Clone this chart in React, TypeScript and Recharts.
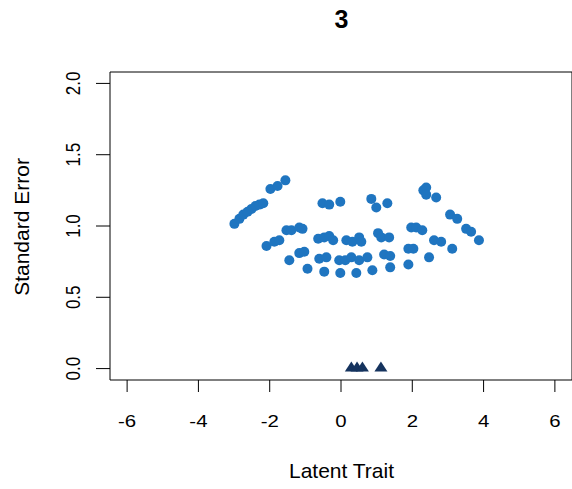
import { ScatterChart, Scatter, XAxis, YAxis, ReferenceArea } from "recharts";

// person locations on the latent trait and their standard errors
const latentTrait = [
  -2.99, -2.85, -2.74, -2.62, -2.51, -2.4, -2.29, -2.18, -1.98, -1.78, -1.56,
  -2.09, -1.87, -1.73, -1.53, -1.39, -1.17, -1.08,
  -1.45, -1.17, -1.03, -0.94,
  -0.52, -0.33, -0.02,
  -0.64, -0.47, -0.33, -0.22, 0.15, 0.32, 0.51, 0.57, 1.04, 1.13, 1.35,
  -0.61, -0.41, -0.05, 0.12, 0.29, 0.51, 0.74, 1.21, 1.38, 1.89, 2.03,
  -0.47, -0.02, 0.43, 0.88, 1.38, 1.89,
  0.85, 0.99, 1.3,
  2.31, 2.39, 2.39, 2.67, 3.06, 3.26, 3.51, 3.65, 3.87,
  1.97, 2.11, 2.28, 2.61, 2.81, 3.12, 2.47,
];
const standardError = [
  1.015, 1.05, 1.08, 1.1, 1.12, 1.14, 1.15, 1.16, 1.26, 1.28, 1.32,
  0.86, 0.89, 0.9, 0.97, 0.97, 0.99, 0.98,
  0.76, 0.81, 0.82, 0.7,
  1.16, 1.15, 1.17,
  0.91, 0.92, 0.93, 0.9, 0.9, 0.89, 0.92, 0.89, 0.95, 0.92, 0.92,
  0.77, 0.78, 0.76, 0.76, 0.78, 0.76, 0.78, 0.8, 0.79, 0.84, 0.84,
  0.68, 0.67, 0.67, 0.69, 0.71, 0.73,
  1.19, 1.13, 1.16,
  1.25, 1.27, 1.22, 1.2, 1.08, 1.05, 0.98, 0.96, 0.9,
  0.99, 0.99, 0.97, 0.9, 0.89, 0.84, 0.78,
];
// item threshold locations, drawn along the zero line
const thresholds = [0.29, 0.45, 0.6, 1.12];

const xTicks = [-6, -4, -2, 0, 2, 4, 6];
const yTicks = [0, 0.5, 1, 1.5, 2];

const personPoints = latentTrait.map((x, i) => ({ x, y: standardError[i] }));
const thresholdPoints = thresholds.map((x) => ({ x, y: 0 }));

const FONT = '"Liberation Sans", Arial, sans-serif';
const STRETCH = 1.2;
const BLUE = "#1f75c0";
const NAVY = "#15335e";

function XTick({ x, payload }: any) {
  return (
    <text
      transform={`translate(${x},427) scale(${STRETCH},1)`}
      textAnchor="middle"
      fontFamily={FONT}
      fontSize={17}
      fill="#000"
    >
      {payload.value}
    </text>
  );
}

function YTick({ y, payload }: any) {
  return (
    <text
      transform={`translate(80,${y}) scale(${STRETCH},1) rotate(-90)`}
      textAnchor="middle"
      fontFamily={FONT}
      fontSize={17}
      fill="#000"
    >
      {Number(payload.value).toFixed(1)}
    </text>
  );
}

const Dot = (props: any) => (
  <circle cx={props.cx} cy={props.cy} r={5} fill={BLUE} />
);

const Triangle = (props: any) => {
  const { cx, cy } = props;
  return (
    <path
      d={`M${cx},${cy - 7}L${cx + 6.5},${cy + 3}L${cx - 6.5},${cy + 3}Z`}
      fill={NAVY}
    />
  );
};

export default function App() {
  return (
    <div style={{ position: "absolute", left: 0, top: 0, width: 572, height: 489 }}>
      <ScatterChart
        width={572}
        height={489}
        margin={{ top: 72, right: 0, bottom: 0, left: 0 }}
      >
        <XAxis
          type="number"
          dataKey="x"
          domain={[-6.48, 6.48]}
          ticks={xTicks}
          allowDataOverflow
          height={109}
          axisLine={false}
          tickLine={{ stroke: "#000" }}
          tickSize={12}
          tick={<XTick />}
          interval={0}
        />
        <YAxis
          type="number"
          dataKey="y"
          domain={[-0.08, 2.08]}
          ticks={yTicks}
          allowDataOverflow
          width={110}
          axisLine={false}
          tickLine={{ stroke: "#000" }}
          tickSize={14}
          tick={<YTick />}
          interval={0}
        />
        <ReferenceArea
          x1={-6.48}
          x2={6.48}
          y1={-0.08}
          y2={2.08}
          fill="none"
          stroke="#000"
          strokeWidth={1}
          fillOpacity={0}
        />
        <Scatter data={personPoints} shape={Dot} isAnimationActive={false} />
        <Scatter data={thresholdPoints} shape={Triangle} isAnimationActive={false} />
      </ScatterChart>
      <svg
        width={572}
        height={489}
        style={{ position: "absolute", left: 0, top: 0, pointerEvents: "none" }}
      >
        <text x={341.5} y={28} textAnchor="middle" fontFamily={FONT} fontSize={25} fontWeight="bold">
          3
        </text>
        <text x={341.5} y={478} textAnchor="middle" fontFamily={FONT} fontSize={21}>
          Latent Trait
        </text>
        <text
          transform="translate(29,227) rotate(-90)"
          textAnchor="middle"
          fontFamily={FONT}
          fontSize={21}
        >
          Standard Error
        </text>
      </svg>
    </div>
  );
}
